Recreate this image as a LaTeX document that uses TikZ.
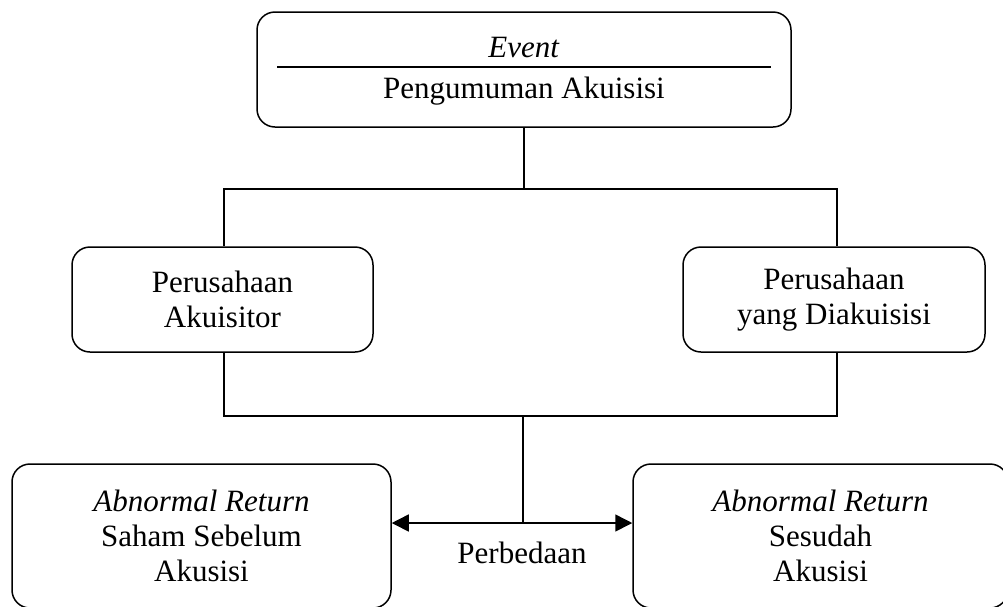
\documentclass[tikz,border=0pt]{standalone}
\usepackage{fontspec}
\setmainfont{Liberation Serif}
\usetikzlibrary{arrows.meta,calc}
\begin{document}
\begin{tikzpicture}[x=1pt,y=-1pt,
  box/.style={draw, line width=1.5pt, rounded corners=18pt, inner sep=0pt, align=center, font=\fontsize{31}{35}\selectfont},
  lbl/.style={font=\fontsize{31}{35}\selectfont, inner sep=0pt, anchor=base},
  conn/.style={line width=1.5pt},
  tip/.style={{Triangle[length=17pt,width=17pt]}-{Triangle[length=17pt,width=17pt]}}]
\useasboundingbox (0,0) rectangle (1003,606);
% top box
\node[box, minimum width=534pt, minimum height=115pt] (top) at (524,69.5) {};
\node[lbl] (ev) at (524,57) {\textit{Event}};
\node[lbl] (pa) at (524,98) {Pengumuman Akuisisi};
\draw[conn] ($(top.west)+(21,-2.5)$) -- ($(top.east)+(-21,-2.5)$);
% middle boxes
\node[box, minimum width=301pt, minimum height=105pt] (lbox) at (222.5,299.5) {Perusahaan\\Akuisitor};
\node[box, minimum width=302pt, minimum height=105pt] (rbox) at (834,299.5) {Perusahaan\\yang Diakuisisi};
% upper connectors
\coordinate (jt) at (524,189);
\coordinate (jl) at (224,189);
\coordinate (jr) at (837,189);
\draw[conn] (top.south) -- (jt);
\draw[conn] (lbox.north -| jl) -- (jl) -- (jr) -- (rbox.north -| jr);
% lower connectors
\coordinate (kl) at (224,416);
\coordinate (kr) at (837,416);
\coordinate (kt) at (523,416);
\draw[conn] (lbox.south -| kl) -- (kl) -- (kr) -- (rbox.south -| kr);
% bottom boxes
\node[box, minimum width=379pt, minimum height=144pt] (bl) at (201.5,536) {\textit{Abnormal Return}\\Saham Sebelum\\Akusisi};
\node[box, minimum width=375pt, minimum height=144pt] (br) at (820.5,536) {\textit{Abnormal Return}\\Sesudah\\Akusisi};
\coordinate (am) at (523,523);
\draw[conn] (kt) -- (am);
\draw[conn, tip] (bl.east |- am) -- (br.west |- am);
\node[lbl] (pb) at (522,563) {Perbedaan};
\end{tikzpicture}
\end{document}
